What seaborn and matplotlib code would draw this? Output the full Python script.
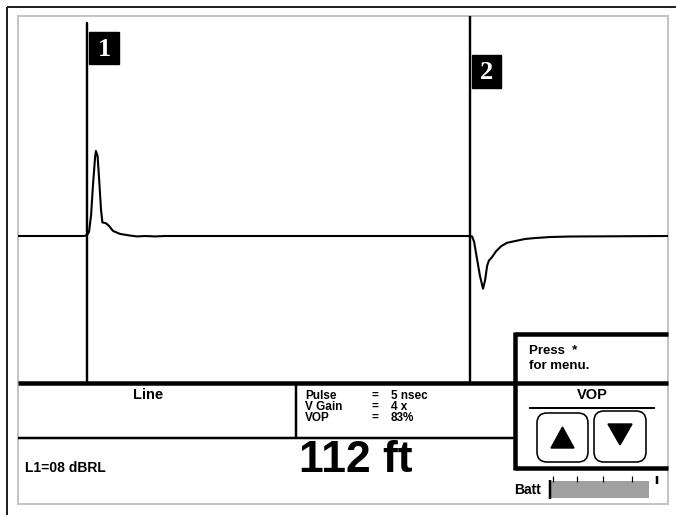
import matplotlib
matplotlib.use("Agg")
import matplotlib.pyplot as plt
from matplotlib.patches import Rectangle, FancyBboxPatch, Polygon
import seaborn as sns
import pandas as pd

# ---- data ----
distance_ft = [-20.2, -0.9, 0.0, 0.6, 1.2, 1.75, 2.35, 2.6, 3.1, 3.65, 4.1, 4.5, 5.55, 6.4,
               7.6, 9.6, 12.6, 14.6, 17.0, 19.9, 22.8, 60.0, 112.0, 112.6, 113.2, 114.0,
               114.9, 115.8, 116.4, 117.0, 117.5, 118.4, 119.6, 121.1, 122.8, 125.1, 128.1,
               131.0, 135.4, 141.2, 169.9]
amplitude = [0.0, 0.0, 0.01, 0.05, 0.25, 0.6, 0.92, 1.0, 0.94, 0.6, 0.31, 0.16, 0.15, 0.12,
             0.06, 0.025, 0.005, -0.005, 0.0, -0.005, 0.0, 0.0, 0.0, -0.005, -0.07, -0.26,
             -0.47, -0.62, -0.52, -0.35, -0.29, -0.25, -0.18, -0.12, -0.08, -0.06, -0.035,
             -0.024, -0.012, -0.006, 0.0]
cursor_positions = [0.0, 112.0]
cursor_labels = ["1", "2"]
line_label = "Line"
param_names = ["Pulse", "V Gain", "VOP"]
param_values = ["5 nsec", "4 x", "83%"]
rl_text = "L1=08 dBRL"
distance_text = "112 ft"
menu_lines = ["Press  *", "for menu."]
box_title = "VOP"
batt_label = "Batt"

sns.set_theme(style="white")
plt.rcParams['font.family'] = ['Liberation Sans', 'DejaVu Sans']
plt.rcParams['text.color'] = 'black'

W, H = 676, 515
fig = plt.figure(figsize=(W / 100, H / 100), dpi=100)
fig.patch.set_facecolor("white")

# overlay axes in pixel coordinates
ax0 = fig.add_axes([0, 0, 1, 1])
ax0.set_xlim(0, W)
ax0.set_ylim(H, 0)
ax0.axis("off")

def px(v):
    return v * 0.72

# outer dark border (top & left)
ax0.plot([7, W], [7, 7], color="#222222", lw=px(2), solid_capstyle="butt")
ax0.plot([7, 7], [7, H], color="#222222", lw=px(2), solid_capstyle="butt")
# inner gray frame
ax0.add_patch(Rectangle((18, 16), 650, 488, fill=False, ec="#c4c4c4", lw=px(2)))

# panel lines
ax0.plot([18, 668], [383, 383], color="black", lw=px(4.5), solid_capstyle="butt")
ax0.plot([18, 517], [438, 438], color="black", lw=px(2.5), solid_capstyle="butt")
ax0.plot([296, 296], [383, 438], color="black", lw=px(2.5), solid_capstyle="butt")
# right box
ax0.plot([515, 668], [334, 334], color="black", lw=px(4.5), solid_capstyle="butt")
ax0.plot([515, 515], [332, 470], color="black", lw=px(4.5), solid_capstyle="butt")
ax0.plot([515, 668], [468, 468], color="black", lw=px(4.5), solid_capstyle="butt")
ax0.plot([529, 655], [408, 408], color="black", lw=px(2), solid_capstyle="butt")

# buttons
ax0.add_patch(FancyBboxPatch((537, 413), 51, 49, boxstyle="round,pad=0,rounding_size=10",
                             fill=False, ec="black", lw=px(1.6)))
ax0.add_patch(FancyBboxPatch((594, 411), 52, 51, boxstyle="round,pad=0,rounding_size=10",
                             fill=False, ec="black", lw=px(1.6)))
ax0.add_patch(Polygon([[551, 448], [574, 448], [562.5, 427]], closed=True, color="black"))
ax0.add_patch(Polygon([[608, 424], [632, 424], [620, 445]], closed=True, color="black"))

# texts
ax0.text(148, 395, line_label, ha="center", va="center", fontsize=10.5, fontweight="bold")
for i, (n, v) in enumerate(zip(param_names, param_values)):
    y = 396 + i * 11
    ax0.text(305, y, n, ha="left", va="center", fontsize=8.5, fontweight="bold")
    ax0.text(372, y, "=", ha="left", va="center", fontsize=8.5, fontweight="bold")
    ax0.text(391, y, v, ha="left", va="center", fontsize=8.5, fontweight="bold")
ax0.text(25, 468, rl_text, ha="left", va="center", fontsize=10, fontweight="bold")
ax0.text(356, 461, distance_text, ha="center", va="center", fontsize=32, fontweight="bold")
ax0.text(529, 351, menu_lines[0], ha="left", va="center", fontsize=9.5, fontweight="bold")
ax0.text(529, 366, menu_lines[1], ha="left", va="center", fontsize=9.5, fontweight="bold")
ax0.text(592, 395, box_title, ha="center", va="center", fontsize=10.5, fontweight="bold")
ax0.text(541, 490, batt_label, ha="right", va="center", fontsize=10, fontweight="bold")

# battery gauge
ax0.add_patch(Rectangle((551, 481), 98, 17, color="#a0a0a0", lw=0))
ax0.plot([550, 550], [480, 499], color="black", lw=px(2.5), solid_capstyle="butt")
for tx in [553, 577, 603, 632]:
    ax0.plot([tx, tx], [476, 482], color="black", lw=px(1.2), solid_capstyle="butt")
ax0.plot([657, 657], [476, 484], color="black", lw=px(2.5), solid_capstyle="butt")

# ---- trace axes (x in ft, y in amplitude) ----
left_px, right_px, top_px, bot_px = 18, 668, 16, 383
ax = fig.add_axes([left_px / W, (H - bot_px) / H, (right_px - left_px) / W, (bot_px - top_px) / H])
ax.patch.set_alpha(0)
ft_per_px = 1 / 3.42
ax.set_xlim((left_px - 87) * ft_per_px, (right_px - 87) * ft_per_px)
ax.set_ylim((236 - bot_px) / 85, (236 - top_px) / 85)
ax.axis("off")

df = pd.DataFrame({"distance": distance_ft, "amplitude": amplitude})
sns.lineplot(data=df, x="distance", y="amplitude", ax=ax, color="black", lw=1.5,
             sort=False, estimator=None)

ymaxs = [(bot_px - 23) / (bot_px - top_px), 1.0]
for cpos, ym in zip(cursor_positions, ymaxs):
    ax.axvline(cpos, ymin=0, ymax=ym, color="black", lw=px(2.4))

# cursor flags (pixel coords on overlay)
flag_boxes = [(89, 32, 30, 32), (472, 55, 29, 33)]
for (bx, by, bw, bh), lab in zip(flag_boxes, cursor_labels):
    ax0.add_patch(Rectangle((bx, by), bw, bh, color="black", zorder=5))
    ax0.text(bx + bw / 2, by + bh / 2 + 1, lab, ha="center", va="center", color="white",
             fontsize=19, fontweight="bold", family=["Liberation Serif", "DejaVu Serif"], zorder=6)

fig.savefig("out.png", dpi=100, facecolor="white")
